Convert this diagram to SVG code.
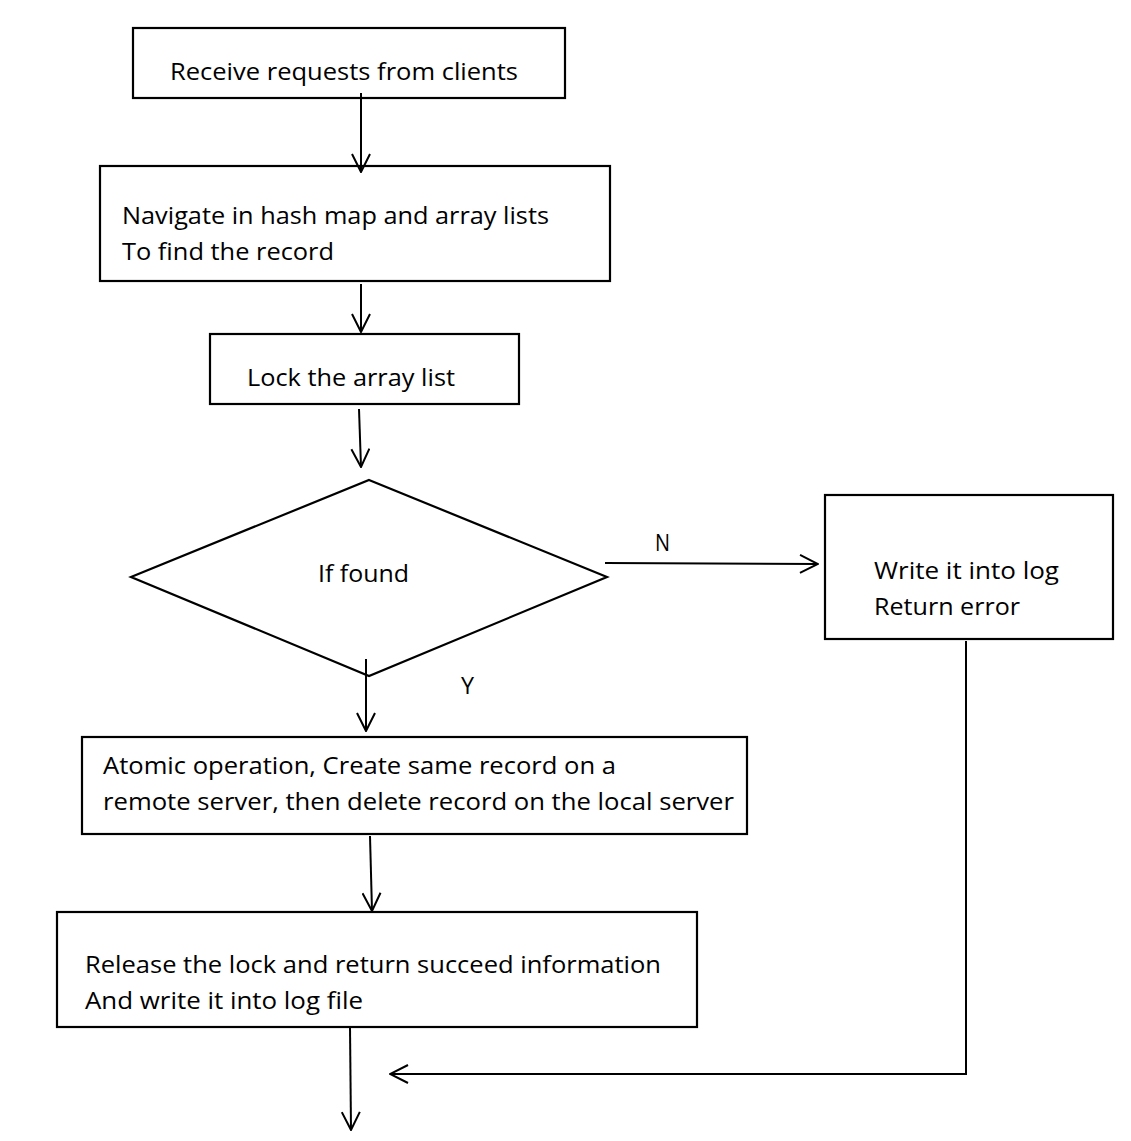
<svg xmlns="http://www.w3.org/2000/svg" width="1131" height="1141" viewBox="0 0 1131 1141">
<defs>
<style>
.box{fill:#fff;stroke:#000;stroke-width:2.2}
.t{font-family:"Open Sans","Liberation Sans",sans-serif;font-size:24px;fill:#000}
.c{fill:none;stroke:#000;stroke-width:2}
</style>
<marker id="ah" viewBox="0 0 20 20" refX="19" refY="10" markerWidth="20" markerHeight="20" markerUnits="userSpaceOnUse" orient="auto">
<path d="M1,1 L19,10 L1,19" fill="none" stroke="#000" stroke-width="2"/>
</marker>
</defs>
<rect width="1131" height="1141" fill="#fff"/>
<g id="n1"><rect class="box" x="133" y="28" width="432" height="70"/>
<text class="t" x="170" y="80" textLength="348" lengthAdjust="spacingAndGlyphs">Receive requests from clients</text></g>
<g id="n2"><rect class="box" x="100" y="166" width="510" height="115"/>
<text class="t" x="122" y="224" textLength="427" lengthAdjust="spacingAndGlyphs">Navigate in hash map and array lists</text>
<text class="t" x="122" y="260" textLength="212" lengthAdjust="spacingAndGlyphs">To find the record</text></g>
<g id="n3"><rect class="box" x="210" y="334" width="309" height="70"/>
<text class="t" x="247" y="386" textLength="208" lengthAdjust="spacingAndGlyphs">Lock the array list</text></g>
<g id="n4"><polygon class="box" points="369,480 607,577 369,676 131,577"/>
<text class="t" x="318" y="582" textLength="91" lengthAdjust="spacingAndGlyphs">If found</text></g>
<g id="n5"><rect class="box" x="825" y="495" width="288" height="144"/>
<text class="t" x="874" y="579" textLength="185" lengthAdjust="spacingAndGlyphs">Write it into log</text>
<text class="t" x="874" y="615" textLength="146" lengthAdjust="spacingAndGlyphs">Return error</text></g>
<g id="n6"><rect class="box" x="82" y="737" width="665" height="97"/>
<text class="t" x="103" y="774" textLength="513" lengthAdjust="spacingAndGlyphs">Atomic operation, Create same record on a</text>
<text class="t" x="103" y="810" textLength="631" lengthAdjust="spacingAndGlyphs">remote server, then delete record on the local server</text></g>
<g id="n7"><rect class="box" x="57" y="912" width="640" height="115"/>
<text class="t" x="85" y="973" textLength="576" lengthAdjust="spacingAndGlyphs">Release the lock and return succeed information</text>
<text class="t" x="85" y="1009" textLength="278" lengthAdjust="spacingAndGlyphs">And write it into log file</text></g>
<g id="connectors">
<line class="c" x1="361" y1="93" x2="361" y2="172" marker-end="url(#ah)"/>
<line class="c" x1="361" y1="284" x2="361" y2="332" marker-end="url(#ah)"/>
<line class="c" x1="359" y1="409" x2="361" y2="467" marker-end="url(#ah)"/>
<line class="c" x1="605" y1="563" x2="818" y2="564" marker-end="url(#ah)"/>
<line class="c" x1="366" y1="659" x2="366" y2="731" marker-end="url(#ah)"/>
<line class="c" x1="370" y1="836" x2="372" y2="911" marker-end="url(#ah)"/>
<line class="c" x1="350" y1="1027" x2="351" y2="1130" marker-end="url(#ah)"/>
<polyline class="c" points="966,641 966,1074 390,1074" marker-end="url(#ah)"/>
<text class="t" x="655" y="551" textLength="15" lengthAdjust="spacingAndGlyphs">N</text>
<text class="t" x="461" y="694" textLength="13" lengthAdjust="spacingAndGlyphs">Y</text>
</g>
</svg>
